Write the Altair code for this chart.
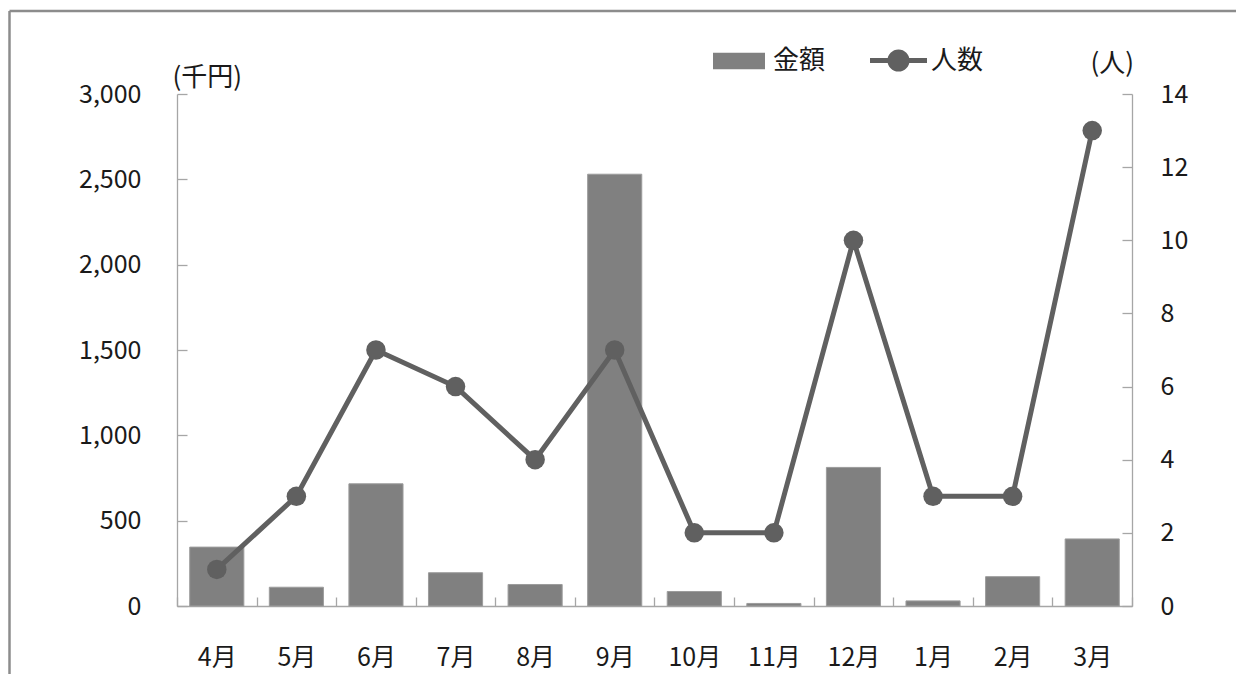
import altair as alt
import pandas as pd

months = ["4月", "5月", "6月", "7月", "8月", "9月", "10月", "11月", "12月", "1月", "2月", "3月"]
amount = [345, 110, 716, 195, 126, 2530, 85, 15, 812, 30, 172, 393]
people = [1, 3, 7, 6, 4, 7, 2, 2, 10, 3, 3, 13]
left_ticks = [0, 500, 1000, 1500, 2000, 2500, 3000]
right_ticks = [0, 2, 4, 6, 8, 10, 12, 14]

df = pd.DataFrame({"month": months, "amount": amount, "people": people})

FONT = "Noto Sans CJK JP"
AXIS_COLOR = "#a6a6a6"
BAR_COLOR = "#808080"
LINE_COLOR = "#606060"
TEXT_COLOR = "#1a1a1a"

xenc = alt.X(
    "month:N",
    sort=months,
    scale=alt.Scale(paddingInner=0, paddingOuter=0),
    axis=alt.Axis(
        title=None, labelAngle=0, tickBand="extent",
        tickSize={"expr": "-9"}, labelPadding=48,
        labelFontSize=25, labelFont=FONT, labelColor=TEXT_COLOR,
        domainColor=AXIS_COLOR, tickColor=AXIS_COLOR, domainWidth=1.3, tickWidth=1.3,
        grid=False,
    ),
)

bar_path = "M-1,-0.317 L1,-0.317 L1,0.317 L-1,0.317 Z"
line_path = ("M-1,-0.09 L1,-0.09 L1,0.09 L-1,0.09 Z "
             "M0.39,0 A0.39,0.39 0 1,1 -0.39,0 A0.39,0.39 0 1,1 0.39,0 Z")

bars = alt.Chart(df).mark_bar(
    stroke="#9c9c9c", strokeWidth=1, width=alt.RelativeBandSize(0.68)
).encode(
    x=xenc,
    y=alt.Y(
        "amount:Q",
        scale=alt.Scale(domain=[0, 3000], nice=False),
        axis=alt.Axis(
            orient="left", values=left_ticks, format=",d",
            title="(千円)", titleAngle=0, titleAlign="left", titleBaseline="middle",
            titleX=-5, titleY=-17, titleFontSize=26, titleFont=FONT, titleFontWeight="normal",
            titleColor=TEXT_COLOR,
            tickSize={"expr": "-10"}, labelPadding=46,
            labelFontSize=25, labelFont=FONT, labelColor=TEXT_COLOR,
            domainColor=AXIS_COLOR, tickColor=AXIS_COLOR, domainWidth=1.3, tickWidth=1.3,
            grid=False,
        ),
    ),
    color=alt.Color(
        "k:N",
        scale=alt.Scale(domain=["金額"], range=[BAR_COLOR]),
        legend=alt.Legend(
            orient="none", legendX=536, legendY=-59, title=None,
            symbolType=bar_path, symbolSize=2704, symbolStrokeWidth=0,
            labelFontSize=26, labelFont=FONT, labelColor=TEXT_COLOR, labelOffset=8, padding=0,
        ),
    ),
).transform_calculate(k="'金額'")

yright = alt.Y(
    "people:Q",
    scale=alt.Scale(domain=[0, 14], nice=False),
    axis=alt.Axis(
        orient="right", values=right_ticks,
        title="(人)", titleAngle=0, titleAlign="left", titleBaseline="middle",
        titleX=-42, titleY=-31, titleFontSize=26, titleFont=FONT, titleFontWeight="normal",
        titleColor=TEXT_COLOR,
        tickSize={"expr": "-10"}, labelPadding=38,
        labelFontSize=25, labelFont=FONT, labelColor=TEXT_COLOR,
        domainColor=AXIS_COLOR, tickColor=AXIS_COLOR, domainWidth=1.3, tickWidth=1.3,
        grid=False,
    ),
)

line = alt.Chart(df).mark_line(color=LINE_COLOR, strokeWidth=5).encode(
    x=xenc, y=yright
)
points = alt.Chart(df).mark_point(filled=True, size=380, opacity=1).encode(
    x=xenc,
    y=yright,
    color=alt.Color(
        "k:N",
        scale=alt.Scale(domain=["人数"], range=[LINE_COLOR]),
        legend=alt.Legend(
            orient="none", legendX=693, legendY=-62, title=None,
            symbolType=line_path, symbolSize=3249, symbolStrokeWidth=0,
            symbolFillColor=LINE_COLOR, symbolOpacity=1,
            labelFontSize=26, labelFont=FONT, labelColor=TEXT_COLOR, labelOffset=4, padding=0,
        ),
    ),
).transform_calculate(k="'人数'")

frame_df = pd.DataFrame({"f": [0]})
frame_left = alt.Chart(frame_df).mark_rule(color="#8c8c8c", strokeWidth=2.5).encode(
    x=alt.value(-167.5), y=alt.value(-83), y2=alt.value(700)
)
frame_top = alt.Chart(frame_df).mark_rule(color="#8c8c8c", strokeWidth=2.5).encode(
    x=alt.value(-167.5), x2=alt.value(1200), y=alt.value(-83)
)

people_layer = alt.layer(line, points)

chart = alt.layer(bars, people_layer, frame_left, frame_top).resolve_scale(
    y="independent", color="independent"
).properties(
    width=955,
    height=512,
    autosize=alt.AutoSizeParams(type="none"),
    padding={"left": 169, "top": 86, "right": 104, "bottom": 68},
).configure(font=FONT).configure_view(strokeWidth=0, stroke="transparent")

chart.save("out.html", embed_options={"renderer": "svg", "actions": False})
